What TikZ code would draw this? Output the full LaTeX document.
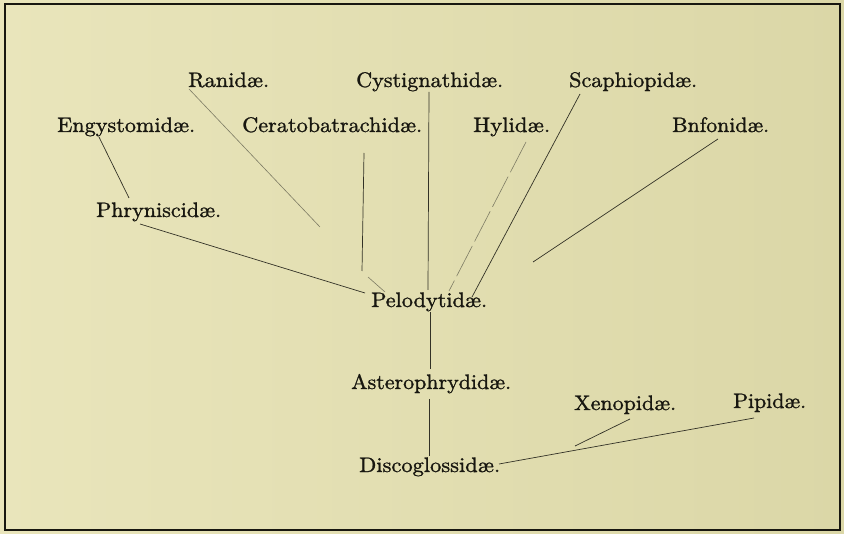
\documentclass[tikz,border=0pt]{standalone}
\usepackage{graphicx}
\usepackage{fontspec}
\newfontfamily\lblfont{lmroman10-regular}[Extension=.otf, FakeBold=1.2]
\definecolor{bgL}{RGB}{233,229,187}
\definecolor{bgR}{RGB}{219,215,167}
\definecolor{ink}{RGB}{24,23,16}
\definecolor{lineink}{RGB}{50,49,38}
\definecolor{faint}{RGB}{125,123,100}
\newcommand{\lab}[2]{\resizebox{#1pt}{\height}{#2}}
\tikzset{
  lbl/.style={inner sep=0pt, anchor=base west, text=ink, font=\lblfont\fontsize{21}{24}\selectfont},
  conn/.style={draw=lineink, line width=0.7pt},
  faintconn/.style={draw=faint, line width=0.6pt},
  frame/.style={draw=ink, line width=1.2pt}
}
\begin{document}
\begin{tikzpicture}[x=1pt,y=-1pt]
\useasboundingbox (0,0) rectangle (844,534);
\fill[left color=bgL, right color=bgR] (0,0) rectangle (844,534);
\draw[frame] (5,4) rectangle (840,530);

% labels
\node[lbl] (rani) at (188,87) {\lab{81}{Ranidæ.}};
\node[lbl] (cyst) at (356,87) {\lab{147}{Cystignathidæ.}};
\node[lbl] (scap) at (569,87) {\lab{128}{Scaphiopidæ.}};
\node[lbl] (engy) at (57,132) {\lab{138}{Engystomidæ.}};
\node[lbl] (cera) at (242,132) {\lab{180}{Ceratobatrachidæ.}};
\node[lbl] (hyli) at (473,132) {\lab{77}{Hylidæ.}};
\node[lbl] (bufo) at (672,132) {\lab{97}{Bnfonidæ.}};
\node[lbl] (phry) at (96,217) {\lab{125}{Phryniscidæ.}};
\node[lbl] (pelo) at (371,307) {\lab{116}{Pelodytidæ.}};
\node[lbl] (aste) at (351,389) {\lab{160}{Asterophrydidæ.}};
\node[lbl] (xeno) at (574,410) {\lab{102}{Xenopidæ.}};
\node[lbl] (pipi) at (733,408) {\lab{73}{Pipidæ.}};
\node[lbl] (disc) at (359,472) {\lab{141}{Discoglossidæ.}};

% connector end points
\coordinate (engyE) at (99,137);
\coordinate (phryT) at (129,198);
\coordinate (phryE) at (140,224);
\coordinate (peloW) at (365,293);
\coordinate (raniE) at (189,89);
\coordinate (raniF) at (320,227);
\coordinate (ceraE) at (364,153);
\coordinate (ceraF) at (362,271);
\coordinate (ceraG) at (368,277);
\coordinate (peloNW) at (385,292);
\coordinate (cystE) at (429,92);
\coordinate (peloN) at (428,290);
\coordinate (peloS) at (430,312);
\coordinate (asteN) at (430,369);
\coordinate (asteS) at (429,399);
\coordinate (discN) at (429,456);
\coordinate (hyliE) at (526,142);
\coordinate (peloNE) at (449,291);
\coordinate (scapE) at (580,94);
\coordinate (peloE) at (472,297);
\coordinate (bufoE) at (718,139);
\coordinate (bufoF) at (533,262);
\coordinate (xenoE) at (630,419);
\coordinate (xenoF) at (575,446);
\coordinate (pipiE) at (754,418);
\coordinate (discE) at (499,464);

% connectors
\draw[conn] (engyE) -- (phryT);
\draw[conn] (phryE) -- (peloW);
\draw[faintconn] (raniE) -- (raniF);
\draw[conn] (ceraE) -- (ceraF);
\draw[faintconn] (ceraG) -- (peloNW);
\draw[conn] (cystE) -- (peloN);
\draw[conn] (peloS) -- (asteN);
\draw[conn] (asteS) -- (discN);
\draw[faintconn, dash pattern=on 34pt off 5pt] (hyliE) -- (peloNE);
\draw[conn] (scapE) -- (peloE);
\draw[conn] (bufoE) -- (bufoF);
\draw[conn] (xenoE) -- (xenoF);
\draw[conn] (pipiE) -- (discE);
\end{tikzpicture}
\end{document}
